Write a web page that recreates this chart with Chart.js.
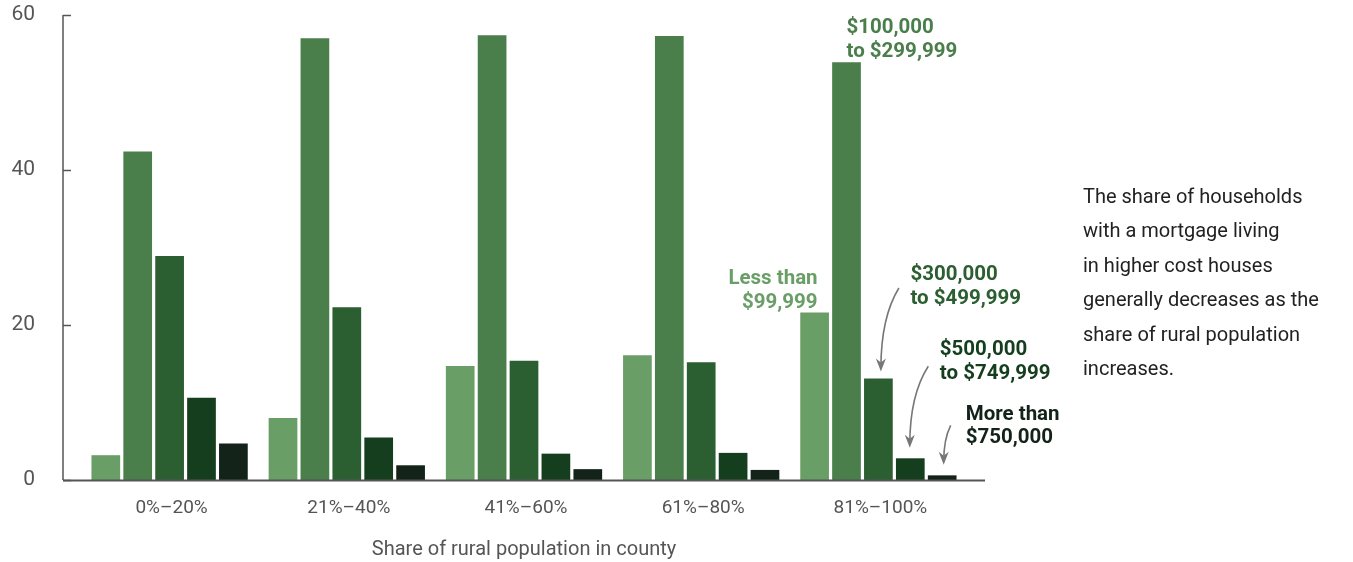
<!DOCTYPE html>
<html>
<head>
<meta charset="utf-8">
<script src="https://cdn.jsdelivr.net/npm/chart.js@4.4.0/dist/chart.umd.min.js"></script>
<style>
  html, body { margin: 0; padding: 0; background: #fff; }
  #wrap { position: relative; width: 1353px; height: 562px; }
  canvas { display: block; }
</style>
</head>
<body>
<div id="wrap"><canvas id="c" width="1353" height="562"></canvas></div>
<script>
const categories = ["0%–20%", "21%–40%", "41%–60%", "61%–80%", "81%–100%"];
const seriesNames = ["Less than $99,999", "$100,000 to $299,999", "$300,000 to $499,999", "$500,000 to $749,999", "More than $750,000"];
const lessThan99999 = [3.2, 8.0, 14.7, 16.1, 21.6];
const from100kTo299k = [42.4, 57.0, 57.4, 57.3, 53.9];
const from300kTo499k = [28.9, 22.3, 15.4, 15.2, 13.1];
const from500kTo749k = [10.6, 5.5, 3.4, 3.5, 2.8];
const moreThan750k = [4.7, 1.9, 1.4, 1.3, 0.6];
const yTicks = [0, 20, 40, 60];
const xAxisTitle = "Share of rural population in county";
const noteLines = ["The share of households", "with a mortgage living", "in higher cost houses", "generally decreases as the", "share of rural population", "increases."];

const colors = ["#6a9e67", "#4a7e4b", "#2b5e30", "#153e1e", "#13231a"];
const seriesData = [lessThan99999, from100kTo299k, from300kTo499k, from500kTo749k, moreThan750k];

const FONT = "Roboto, 'Open Sans', sans-serif";

const decor = {
  id: 'decor',
  afterDraw(chart) {
    const ctx = chart.ctx;
    const y = chart.scales.y;
    const area = chart.chartArea;
    const axisX = area.left - 18;
    const axisRight = area.right + 18;
    ctx.save();
    ctx.strokeStyle = '#555';
    ctx.lineWidth = 1.5;
    ctx.beginPath();
    ctx.moveTo(axisX, y.getPixelForValue(60));
    ctx.lineTo(axisX, y.getPixelForValue(0));
    ctx.stroke();
    yTicks.forEach(v => {
      const py = Math.round(y.getPixelForValue(v)) + 0.5;
      ctx.beginPath();
      ctx.moveTo(axisX, py);
      ctx.lineTo(axisX + 8, py);
      ctx.stroke();
    });
    ctx.lineWidth = 2;
    ctx.beginPath();
    ctx.moveTo(axisX, y.getPixelForValue(0) + 0.5);
    ctx.lineTo(axisRight, y.getPixelForValue(0) + 0.5);
    ctx.stroke();

    const last = categories.length - 1;
    const bar = i => chart.getDatasetMeta(i).data[last];
    ctx.font = "bold 20.5px " + FONT;
    ctx.textBaseline = 'middle';
    const lineText = (lines, x, yTop, color, align) => {
      ctx.fillStyle = color;
      ctx.textAlign = align;
      lines.forEach((t, k) => ctx.fillText(t, x, yTop + k * 23.5));
    };
    const b0 = bar(0), b1 = bar(1), b2 = bar(2), b3 = bar(3), b4 = bar(4);
    lineText(["Less than", "$99,999"], b0.x + 3, b0.y - 33.5, colors[0], 'right');
    lineText(["$100,000", "to $299,999"], b1.x, b1.y - 34, colors[1], 'left');
    lineText(["$300,000", "to $499,999"], b2.x + 32, b2.y - 103.5, colors[2], 'left');
    lineText(["$500,000", "to $749,999"], b3.x + 29.5, b3.y - 108, colors[3], 'left');
    lineText(["More than", "$750,000"], b4.x + 23.5, b4.y - 60.5, colors[4], 'left');

    const arrow = (sx, sy, ex, ey) => {
      ctx.strokeStyle = '#777';
      ctx.fillStyle = '#777';
      ctx.lineWidth = 1.6;
      ctx.beginPath();
      ctx.moveTo(sx, sy);
      ctx.quadraticCurveTo(ex, sy + (ey - sy) * 0.35, ex, ey - 3);
      ctx.stroke();
      ctx.beginPath();
      ctx.moveTo(ex, ey);
      ctx.lineTo(ex - 5, ey - 13);
      ctx.lineTo(ex, ey - 9);
      ctx.lineTo(ex + 5, ey - 13);
      ctx.closePath();
      ctx.fill();
    };
    arrow(b2.x + 20.5, b2.y - 90.5, b2.x + 2.5, b2.y - 7);
    arrow(b3.x + 18, b3.y - 92, b3.x - 0.5, b3.y - 10.5);
    arrow(b4.x + 8.5, b4.y - 50, b4.x + 1.5, b4.y - 10.5);

    ctx.font = "20px " + FONT;
    ctx.fillStyle = '#222';
    ctx.textAlign = 'left';
    noteLines.forEach((t, k) => ctx.fillText(t, 1083, 198 + k * 34.4));
    ctx.restore();
  }
};

new Chart(document.getElementById('c'), {
  type: 'bar',
  data: {
    labels: categories,
    datasets: seriesNames.map((n, i) => ({
      label: n,
      data: seriesData[i],
      backgroundColor: colors[i],
      borderWidth: 0,
      categoryPercentage: 0.9,
      barPercentage: 0.9
    }))
  },
  options: {
    responsive: false,
    animation: false,
    devicePixelRatio: 1,
    layout: { padding: { left: 0, right: 386, top: 15, bottom: 0 } },
    plugins: { legend: { display: false }, tooltip: { enabled: false } },
    scales: {
      x: {
        afterFit(scale) { scale.height = 82; scale.paddingLeft = 0; scale.paddingRight = 0; },
        grid: { display: false },
        border: { display: false },
        ticks: { color: '#555', font: { family: FONT, size: 19 }, padding: 9, maxRotation: 0, labelOffset: 2 },
        title: { display: true, text: xAxisTitle, color: '#555', font: { family: FONT, size: 20 }, padding: { top: 0, bottom: 0 } }
      },
      y: {
        min: 0, max: 60,
        afterFit(scale) { scale.width = 81; scale.paddingTop = 0; scale.paddingBottom = 0; },
        afterBuildTicks(scale) { scale.ticks = yTicks.map(v => ({ value: v })); },
        grid: { display: false },
        border: { display: false },
        ticks: { color: '#555', font: { family: FONT, size: 21 }, padding: 38 }
      }
    }
  },
  plugins: [decor]
});
</script>
</body>
</html>
